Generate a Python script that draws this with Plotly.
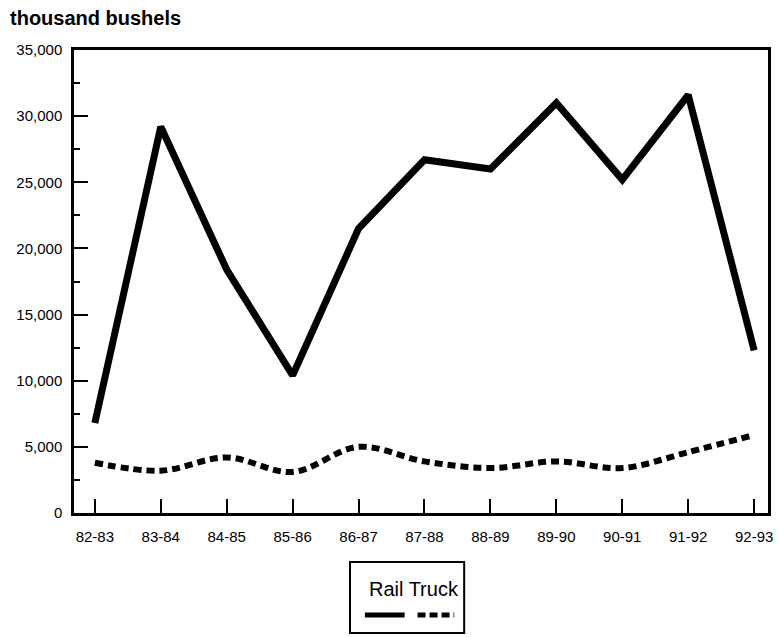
import plotly.graph_objects as go

# Marketing years and shipments (thousand bushels)
years = ["82-83", "83-84", "84-85", "85-86", "86-87", "87-88",
         "88-89", "89-90", "90-91", "91-92", "92-93"]
rail = [6800, 29200, 18400, 10400, 21500, 26700, 26000, 31000, 25200, 31600, 12300]
truck = [3800, 3200, 4200, 3100, 5000, 3900, 3400, 3900, 3400, 4600, 5900]

y_ticks = [0, 5000, 10000, 15000, 20000, 25000, 30000, 35000]
y_labels = ["0", "5,000", "10,000", "15,000", "20,000", "25,000", "30,000", "35,000"]

FONT = "Liberation Sans, Arial, Helvetica, sans-serif"

fig = go.Figure()
fig.add_trace(go.Scatter(
    x=years, y=rail, mode="lines", name="Rail",
    line=dict(color="black", width=7),
))
fig.add_trace(go.Scatter(
    x=years, y=truck, mode="lines", name="Truck",
    line=dict(color="black", width=6, dash="8px,5px", shape="spline", smoothing=1.0),
))

fig.update_layout(
    width=779, height=637,
    margin=dict(l=74, r=6, t=50, b=124),
    plot_bgcolor="white", paper_bgcolor="white",
    showlegend=False,
    font=dict(family=FONT, color="black", size=15),
)

fig.update_xaxes(
    type="category", range=[-0.316, 10.21],
    showgrid=False, zeroline=False,
    showline=True, linecolor="black", linewidth=3, mirror=True,
    ticks="inside", ticklen=14, tickwidth=2, tickcolor="black",
    ticklabelstandoff=8,
    tickfont=dict(size=15, family=FONT),
)
fig.update_yaxes(
    range=[0, 35000],
    tickvals=y_ticks, ticktext=y_labels,
    showgrid=False, zeroline=False,
    showline=True, linecolor="black", linewidth=2.5, mirror=True,
    ticks="inside", ticklen=14, tickwidth=2, tickcolor="black",
    minor=dict(dtick=2500, ticks="inside", ticklen=6, tickwidth=1.5, tickcolor="black"),
    ticklabelstandoff=6,
    tickfont=dict(size=15, family=FONT),
)

# Axis unit label
fig.add_annotation(
    text="<b>thousand bushels</b>", xref="paper", yref="paper",
    x=-0.095, y=1.070, xanchor="left", yanchor="middle", showarrow=False,
    font=dict(size=20, family=FONT),
)

# Legend panel below the chart
fig.add_shape(type="rect", xref="paper", yref="paper",
              x0=0.3977, x1=0.5622, y0=-0.1058, y1=-0.2592,
              line=dict(color="black", width=2), fillcolor="white")
fig.add_annotation(
    text="Rail Truck", xref="paper", yref="paper",
    x=0.4893, y=-0.1641, xanchor="center", yanchor="middle", showarrow=False,
    font=dict(size=20, family=FONT),
)
fig.add_shape(type="line", xref="paper", yref="paper",
              x0=0.4192, x1=0.4764, y0=-0.2203, y1=-0.2203,
              line=dict(color="black", width=5))
fig.add_shape(type="line", xref="paper", yref="paper",
              x0=0.4950, x1=0.5479, y0=-0.2203, y1=-0.2203,
              line=dict(color="black", width=5, dash="8px,4px"))

fig.write_html("out.html")
